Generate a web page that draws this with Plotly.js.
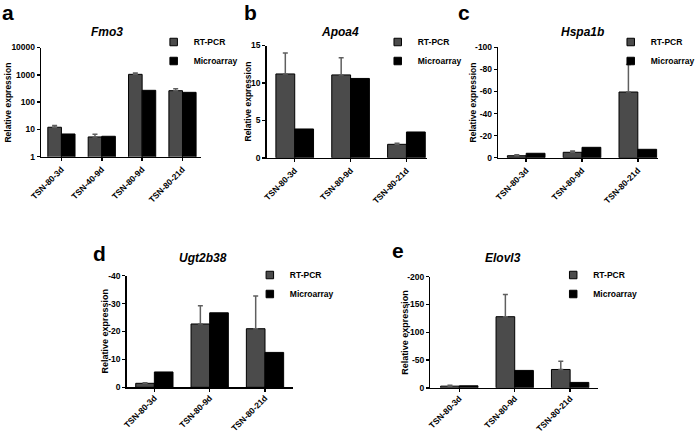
<!DOCTYPE html>
<html>
<head>
<meta charset="utf-8">
<script src="https://cdn.plot.ly/plotly-3.0.1.min.js"></script>
<style>html,body{margin:0;padding:0;background:#fff;}#chart{width:700px;height:433px;}</style>
</head>
<body>
<div id="chart"></div>
<script>
// ---- data ----
var catsA = ['TSN-80-3d', 'TSN-40-9d', 'TSN-80-9d', 'TSN-80-21d'];
var catsB = ['TSN-80-3d', 'TSN-80-9d', 'TSN-80-21d'];

var fmo3Rt = [12, 5.3, 1040, 262];
var fmo3RtErr = [2, 1.3, 130, 48];
var fmo3Micro = [6.8, 5.6, 270, 228];

var apoa4Rt = [11.2, 11.07, 1.8];
var apoa4RtErr = [2.8, 2.3, 0.13];
var apoa4Micro = [3.85, 10.6, 3.45];

var hspa1bRt = [1.8, 4.9, 59.5];
var hspa1bRtErr = [0.9, 1.1, 25];
var hspa1bMicro = [4.0, 9.4, 7.6];

var ugtRt = [1.43, 22.7, 21.0];
var ugtRtErr = [0.2, 6.5, 11.7];
var ugtMicro = [5.5, 26.7, 12.5];

var elovl3Rt = [3.0, 128, 33];
var elovl3RtErr = [1.8, 40, 15];
var elovl3Micro = [3.6, 31.3, 9.7];

var tickA = [1, 10, 100, 1000, 10000];
var tickAText = ['1', '10', '100', '1000', '10000'];
var tickB = [0, 5, 10, 15];
var tickBText = ['0', '5', '10', '15'];
var tickC = [0, 20, 40, 60, 80, 100];
var tickCText = ['0', '-20', '-40', '-60', '-80', '-100'];
var tickD = [0, 10, 20, 30, 40];
var tickDText = ['0', '-10', '-20', '-30', '-40'];
var tickE = [0, 50, 100, 150, 200];
var tickEText = ['0', '-50', '-100', '-150', '-200'];

var seriesNames = ['RT-PCR', 'Microarray'];
var titles = ['Fmo3', 'Apoa4', 'Hspa1b', 'Ugt2b38', 'Elovl3'];
var letters = ['a', 'b', 'c', 'd', 'e'];
var yTitle = 'Relative expression';

// ---- styling ----
var W = 700, H = 433;
var FONT = 'Liberation Sans, Arial, Helvetica, sans-serif';
var rtColor = '#4b4b4b', microColor = '#000000';

var panels = [
  {cats: catsA, rt: fmo3Rt, err: fmo3RtErr, mi: fmo3Micro, tv: tickA, tt: tickAText, log: true, yr: [0, 4],
   xpx: [41.6, 203.2], xr: [-0.5, 3.47], ypx: [47.5, 156.7], leg: [155, 27.5], title: [108, 31.5], letter: [1, 0],
   ytx: 8.5, tfs: 8.5, lso: 0},
  {cats: catsB, rt: apoa4Rt, err: apoa4RtErr, mi: apoa4Micro, tv: tickB, tt: tickBText, log: false, yr: [0, 15],
   xpx: [269.1, 430.8], xr: [-0.5, 2.37], ypx: [45.5, 157.8], leg: [381, 27.5], title: [343, 31.5], letter: [245, 0],
   ytx: 250, tfs: 8.5, lso: 0},
  {cats: catsB, rt: hspa1bRt, err: hspa1bRtErr, mi: hspa1bMicro, tv: tickC, tt: tickCText, log: false, yr: [0, 100],
   xpx: [502.6, 663.6], xr: [-0.5, 2.36], ypx: [47.3, 157.7], leg: [616, 27.5], title: [588, 31.5], letter: [461, 0],
   ytx: 478, tfs: 8.5, lso: 0},
  {cats: catsB, rt: ugtRt, err: ugtRtErr, mi: ugtMicro, tv: tickD, tt: tickDText, log: false, yr: [0, 40],
   xpx: [127.8, 295.2], xr: [-0.5, 2.5], ypx: [275.7, 387.3], leg: [252, 260.5], title: [205, 258], letter: [93, 241],
   ytx: 105, tfs: 9, lso: -2},
  {cats: catsB, rt: elovl3Rt, err: elovl3RtErr, mi: elovl3Micro, tv: tickE, tt: tickEText, log: false, yr: [0, 200],
   xpx: [434.2, 603.0], xr: [-0.52, 2.5], ypx: [276.7, 387.8], leg: [558, 260.5], title: [507, 258], letter: [394, 238],
   ytx: 409, tfs: 9, lso: -2}
];

var data = [];
var layout = {
  width: W, height: H,
  margin: {l: 0, r: 0, t: 0, b: 0},
  paper_bgcolor: '#fff', plot_bgcolor: '#fff',
  font: {family: FONT, size: 8.5, color: '#000', weight: 700},
  barmode: 'group', bargap: 0.326, bargroupgap: 0,
  annotations: []
};

panels.forEach(function (p, i) {
  var n = i + 1;
  var xa = 'x' + (n === 1 ? '' : n), ya = 'y' + (n === 1 ? '' : n);
  var xkey = 'xaxis' + (n === 1 ? '' : n), ykey = 'yaxis' + (n === 1 ? '' : n);
  var lg = 'legend' + (n === 1 ? '' : n);

  data.push({
    type: 'bar', x: p.cats, y: p.rt, name: seriesNames[0], xaxis: xa, yaxis: ya,
    marker: {color: rtColor, line: {color: '#000', width: 1}}, showlegend: false,
    error_y: {type: 'data', array: p.err, arrayminus: p.err.map(function () { return 0; }), symmetric: false,
              color: '#5f5f5f', thickness: 1.5, width: 2.5}
  });
  data.push({
    type: 'bar', x: p.cats, y: p.mi, name: seriesNames[1], xaxis: xa, yaxis: ya,
    marker: {color: microColor, line: {color: '#000', width: 1}}, showlegend: false
  });
  // legend entries
  [rtColor, microColor].forEach(function (c, k) {
    data.push({
      type: 'scatter', mode: 'markers', x: [null], y: [null], name: seriesNames[k], xaxis: xa, yaxis: ya,
      legend: lg, showlegend: true, hoverinfo: 'skip',
      marker: {symbol: 'square', size: 7.5, color: c, line: {color: '#000', width: 1}}
    });
  });

  layout[xkey] = {
    domain: [p.xpx[0] / W, p.xpx[1] / W], anchor: ya, type: 'category', range: p.xr,
    showline: true, linecolor: '#000', linewidth: 1.5, ticks: 'outside', ticklen: 3, tickwidth: 1.5,
    tickcolor: '#000', showgrid: false, zeroline: false, tickangle: -45, fixedrange: true,
    ticklabelstandoff: p.lso,
    tickfont: {family: FONT, size: 8.5, color: '#000', weight: 700}
  };
  layout[ykey] = {
    domain: [1 - p.ypx[1] / H, 1 - p.ypx[0] / H], anchor: xa, range: p.yr, type: p.log ? 'log' : 'linear',
    tickmode: 'array', tickvals: p.tv, ticktext: p.tt,
    showline: true, linecolor: '#000', linewidth: 1.5, ticks: 'outside', ticklen: 3, tickwidth: 1.5,
    tickcolor: '#000', showgrid: false, zeroline: false, fixedrange: true,
    tickfont: {family: FONT, size: 8.5, color: '#000', weight: 700}
  };
  layout[lg] = {
    x: p.leg[0] / W, y: 1 - p.leg[1] / H, xanchor: 'left', yanchor: 'top',
    bgcolor: 'rgba(0,0,0,0)', borderwidth: 0,
    font: {family: FONT, size: 8.5, color: '#000', weight: 700}, tracegroupgap: 0
  };
  // y-axis title
  layout.annotations.push({
    xref: 'paper', yref: 'paper', x: p.ytx / W, y: 1 - (p.ypx[0] + p.ypx[1]) / 2 / H,
    xanchor: 'center', yanchor: 'middle', textangle: -90,
    text: yTitle, showarrow: false,
    font: {family: FONT, size: p.tfs, color: '#000', weight: 700}
  });
  // panel title
  layout.annotations.push({
    xref: 'paper', yref: 'paper', x: p.title[0] / W, y: 1 - p.title[1] / H, xanchor: 'center', yanchor: 'middle',
    text: '<i>' + titles[i] + '</i>', showarrow: false,
    font: {family: FONT, size: 12, color: '#000', weight: 700}
  });
  // panel letter
  layout.annotations.push({
    xref: 'paper', yref: 'paper', x: p.letter[0] / W, y: 1 - p.letter[1] / H, xanchor: 'left', yanchor: 'top',
    text: letters[i], showarrow: false, borderpad: 0,
    font: {family: FONT, size: 21, color: '#000', weight: 700}
  });
});

Plotly.newPlot('chart', data, layout, {staticPlot: true, displayModeBar: false});
</script>
</body>
</html>
